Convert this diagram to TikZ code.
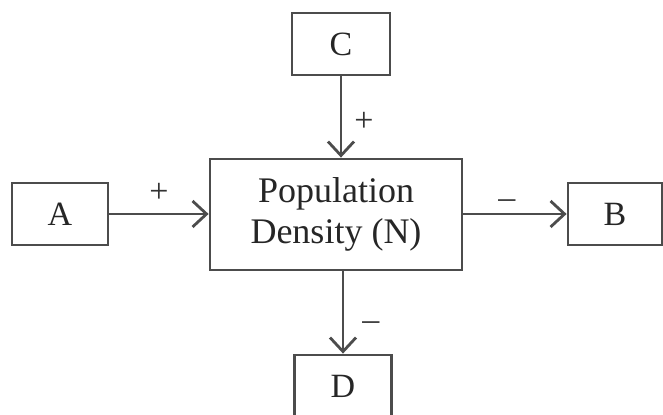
\documentclass[tikz,border=0pt]{standalone}
\usepackage{fontspec}
\setmainfont{Liberation Serif}
\usetikzlibrary{arrows.meta}
\tikzset{
  box/.style={draw=black!70,line width=1.4pt,text=black!85,font=\fontsize{17}{21}\selectfont,minimum height=31pt,inner sep=0pt},
  link/.style={draw=black!70,line width=1.4pt,-{Straight Barb[length=7pt,width=13pt,line width=1.4pt]}},
  sign/.style={text=black!80,font=\fontsize{17}{21}\selectfont,inner sep=1pt}
}
\begin{document}
\begin{tikzpicture}[x=0.5pt,y=0.5pt]
        \useasboundingbox(0,0)rectangle(663,415);
        \node[box,minimum width=126pt,minimum height=55.5pt,align=center,font=\fontsize{18}{20.5}\selectfont](N)at(336,200.5){Population\\Density (N)};
        \node[box,minimum width=49pt](C)at(341,371){C};
        \node[box,minimum width=48pt](A)at(60,201){A};
        \node[box,minimum width=47pt](B)at(615,201){B};
        \node[box,minimum width=48.5pt](D)at(343,29){D};
        % 箭头
        \draw[link](A.east)to node[sign,pos=0.5,above=4pt]{+}(A.east -| N.west);
        \draw[link](A.east -| N.east)to node[sign,pos=0.42,above=1pt]{–}(B.west);
        \draw[link](C.south)to node[sign,pos=0.56,right=5pt]{+}(C.south |- N.north);
        \draw[link](D.north |- N.south)to node[sign,pos=0.66,right=8pt]{–}(D.north);
    \end{tikzpicture}
\end{document}
